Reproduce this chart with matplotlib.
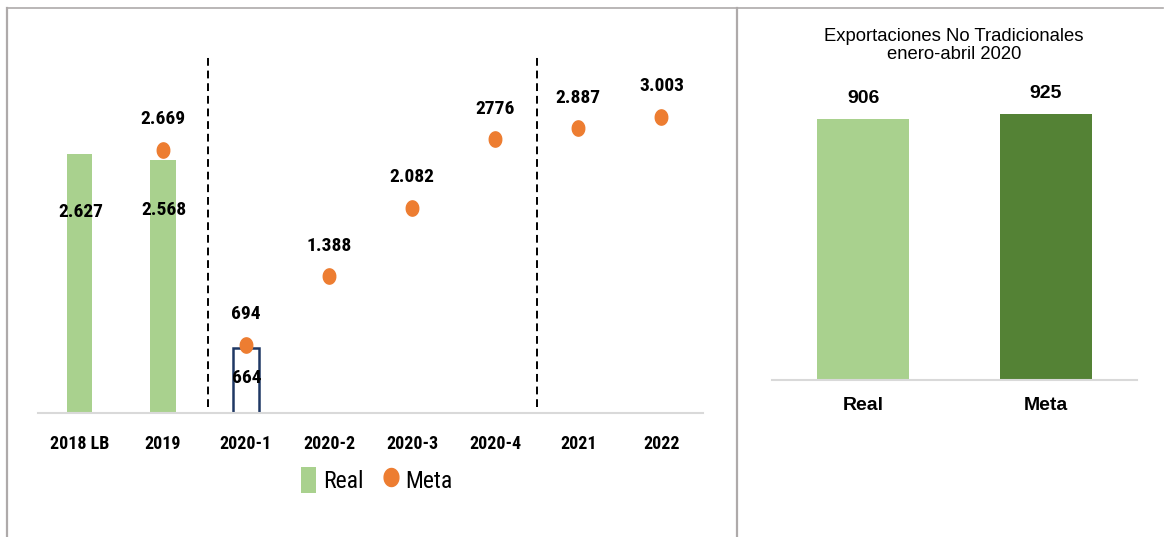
import numpy as np
import matplotlib
matplotlib.use("Agg")
import matplotlib.pyplot as plt
from matplotlib import font_manager
from matplotlib.lines import Line2D
from matplotlib.patches import Patch

# data
categories = ["2018 LB", "2019", "2020-1", "2020-2", "2020-3", "2020-4", "2021", "2022"]
real = [2627, 2568, 664, np.nan, np.nan, np.nan, np.nan, np.nan]
real_labels = ["2.627", "2.568", "664"]
meta = [np.nan, 2669, 694, 1388, 2082, 2776, 2887, 3003]
meta_labels = ["", "2.669", "694", "1.388", "2.082", "2776", "2.887", "3.003"]

ene_abr_cats = ["Real", "Meta"]
ene_abr_vals = [906, 925]
ene_abr_labels = ["906", "925"]

light_green = "#A9D18E"
dark_green = "#548235"
orange = "#ED7D31"
navy = "#1F3864"

# pick a narrow face if one is installed (reference uses a condensed Calibri-like font)
installed = {f.name for f in font_manager.fontManager.ttflist}
narrow_name = None
for cand in ["Liberation Sans Narrow", "Roboto Condensed", "DejaVu Sans Condensed",
             "Open Sans Condensed", "Noto Sans Display", "Lato"]:
    if cand in installed:
        narrow_name = cand
        break
if narrow_name is None:
    narrow_name = "Liberation Sans"
narrow = [narrow_name, "DejaVu Sans"]
arial = ["Liberation Sans", "DejaVu Sans"]
is_narrow = narrow_name in ("Liberation Sans Narrow", "Roboto Condensed", "DejaVu Sans Condensed",
                            "Open Sans Condensed")
lab_fs = 14 if is_narrow else 12.5
tick_fs = 13 if is_narrow else 12
leg_fs = 17 if is_narrow else 16

W, H = 1164, 537
fig = plt.figure(figsize=(W / 100, H / 100), dpi=100)

def fx(px):
    return px / W

def fy(py):
    return 1 - py / H

# panel borders
border = "#AEAAAA"
fig.add_artist(Line2D([fx(7), fx(7)], [fy(8), 0], color=border, lw=1.6))
fig.add_artist(Line2D([fx(7), fx(1163)], [fy(8), fy(8)], color=border, lw=1.2))
fig.add_artist(Line2D([fx(737), fx(737)], [fy(8), 0], color=border, lw=1.6))

# left chart
ax = fig.add_axes([fx(38), fy(413), fx(665), 384.5 / H])
x = np.arange(len(categories))
bars = ax.bar(x, real, width=0.31, color=light_green, zorder=2)
bars[2].set_facecolor("white")
bars[2].set_edgecolor(navy)
bars[2].set_linewidth(1.8)

theta = np.linspace(0, 2 * np.pi, 40)
ell = list(zip(0.82 * np.cos(theta), np.sin(theta)))
ax.plot(x, meta, linestyle="none", marker=ell, markersize=11, color=orange, zorder=3)

bar_off = [-42, -36, -22]
for i, lab in enumerate(real_labels):
    ax.annotate(lab, (x[i], real[i]), xytext=(1, bar_off[i]), textcoords="offset points",
                ha="center", va="center", fontsize=lab_fs, fontweight="bold", family=narrow, zorder=4)
for i, lab in enumerate(meta_labels):
    if lab:
        ax.annotate(lab, (x[i], meta[i]), xytext=(0, 22), textcoords="offset points",
                    ha="center", va="center", fontsize=lab_fs, fontweight="bold", family=narrow)

for xv in [1.55, 5.5]:
    ax.plot([xv, xv], [60, 3610], color="black", lw=1.4, ls=(0, (4, 2.5)))

ax.set_xlim(-0.5, len(categories) - 0.5)
ax.set_ylim(0, 3900)
ax.set_xticks(x)
ax.set_xticklabels(categories, fontsize=tick_fs, fontweight="bold", family=narrow)
ax.tick_params(axis="x", length=0, pad=16)
ax.set_yticks([])
for s in ["top", "right", "left"]:
    ax.spines[s].set_visible(False)
ax.spines["bottom"].set_color("#D9D9D9")
ax.spines["bottom"].set_linewidth(1.5)

handles = [Patch(facecolor=light_green, label="Real"),
           Line2D([], [], linestyle="none", marker=ell, markersize=13, color=orange, label="Meta")]
leg = ax.legend(handles=handles, loc="center", bbox_to_anchor=(0.51, -0.174), ncol=2,
                frameon=False, handlelength=0.6, handleheight=1.3, handletextpad=0.3,
                columnspacing=0.9, prop={"family": narrow, "size": leg_fs})

# right chart
ax2 = fig.add_axes([fx(772), fy(380), fx(365), 310.7 / H])
x2 = np.arange(len(ene_abr_cats))
ax2.bar(x2, ene_abr_vals, width=0.504, color=[light_green, dark_green])
for i, lab in enumerate(ene_abr_labels):
    ax2.annotate(lab, (x2[i], ene_abr_vals[i]), xytext=(0, 15), textcoords="offset points",
                 ha="center", va="center", fontsize=14, fontweight="bold", family=arial)
ax2.set_xlim(-0.5, 1.5)
ax2.set_ylim(0, 1080)
ax2.set_xticks(x2)
ax2.set_xticklabels(ene_abr_cats, fontsize=14, fontweight="bold", family=arial)
ax2.tick_params(axis="x", length=0, pad=12)
ax2.set_yticks([])
for s in ["top", "right", "left"]:
    ax2.spines[s].set_visible(False)
ax2.spines["bottom"].set_color("#D9D9D9")
ax2.spines["bottom"].set_linewidth(1.5)

fig.text(fx(954), fy(45.5), "Exportaciones No Tradicionales\nenero-abril 2020", ha="center", va="center",
         fontsize=13.3, family=arial, linespacing=1.1)

fig.savefig("out.png", dpi=100)
